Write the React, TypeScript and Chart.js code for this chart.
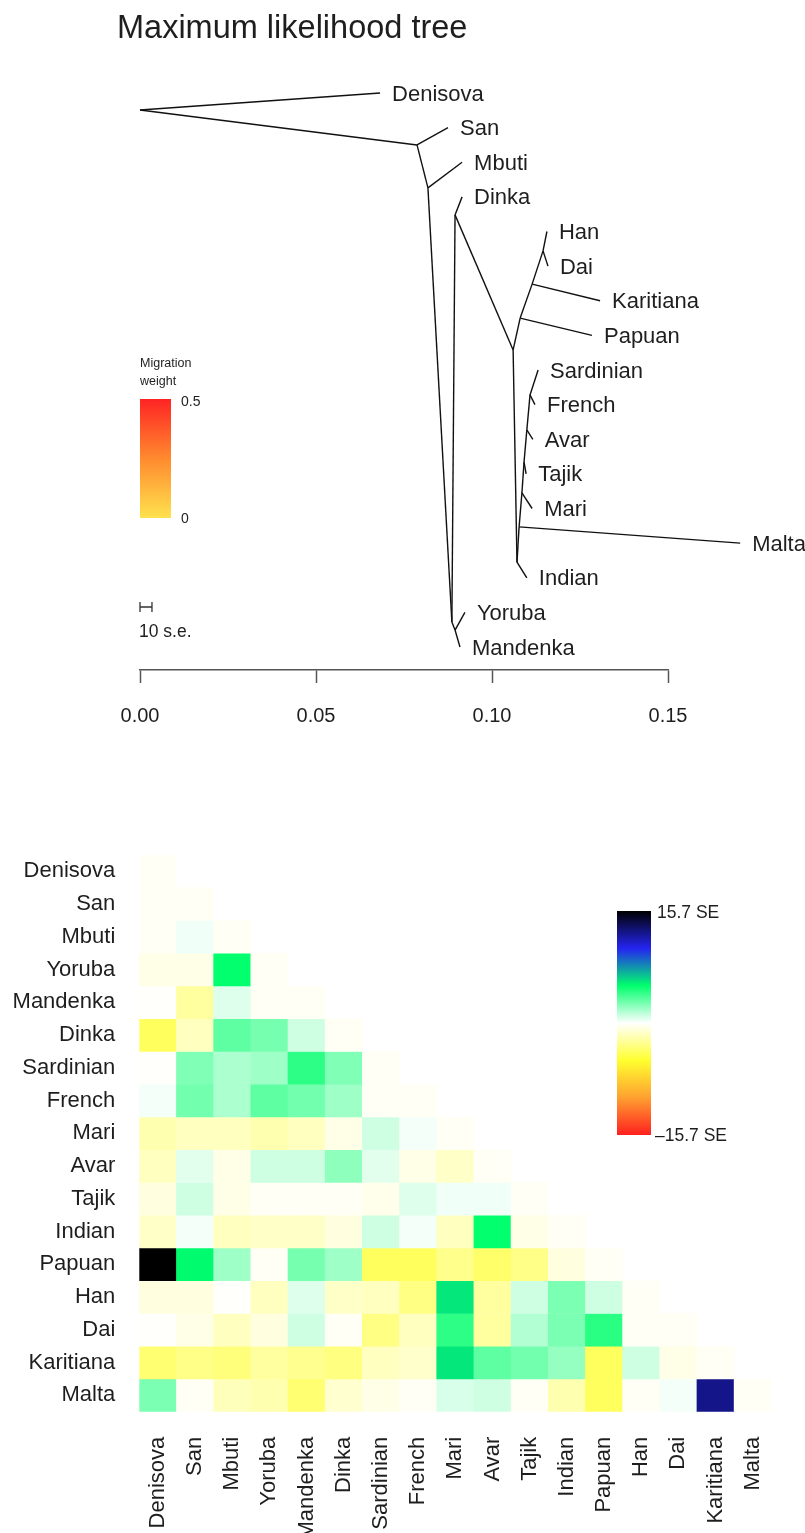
import { useEffect, useRef } from "react";
import Chart from "chart.js/auto";

// ---------- data ----------
const treeTitle = "Maximum likelihood tree";

const nodeNames = [
  "root", "Denisova", "nA", "San", "nB", "Mbuti", "nE", "nF", "Yoruba", "Mandenka",
  "nG", "Dinka", "nH", "nP", "Papuan", "nK", "Karitiana", "nHD", "Han", "Dai",
  "nJ", "Indian", "nM", "Malta", "nM1", "Mari", "nM2", "Tajik", "nM3", "Avar",
  "nM4", "Sardinian", "French",
];
// drift parameter (x)
const nodeDrift = [
  0, 0.0682, 0.0787, 0.0875, 0.0818, 0.0915, 0.0886, 0.0895, 0.0923, 0.0909,
  0.0895, 0.0915, 0.106, 0.108, 0.1284, 0.1114, 0.1307, 0.1145, 0.1156, 0.1159,
  0.1071, 0.1099, 0.1077, 0.1705, 0.1085, 0.1114, 0.1091, 0.1097, 0.1099, 0.1116,
  0.1108, 0.1131, 0.1122,
];
// vertical position (leaf rank, 0 = top)
const nodeRank = [
  0.49, 0, 1.5, 1, 2.74, 2, 15.28, 15.51, 15, 16,
  3.52, 3, 7.42, 6.5, 7, 5.52, 6, 4.56, 4, 5,
  13.55, 14, 12.53, 13, 11.55, 12, 10.66, 11, 9.73, 10,
  8.72, 8, 9,
];
const treeEdges: [string, string][] = [
  ["root", "Denisova"], ["root", "nA"], ["nA", "San"], ["nA", "nB"], ["nB", "Mbuti"],
  ["nB", "nE"], ["nE", "nF"], ["nF", "Yoruba"], ["nF", "Mandenka"], ["nE", "nG"],
  ["nG", "Dinka"], ["nG", "nH"], ["nH", "nP"], ["nP", "Papuan"], ["nP", "nK"],
  ["nK", "Karitiana"], ["nK", "nHD"], ["nHD", "Han"], ["nHD", "Dai"], ["nH", "nJ"],
  ["nJ", "Indian"], ["nJ", "nM"], ["nM", "Malta"], ["nM", "nM1"], ["nM1", "Mari"],
  ["nM1", "nM2"], ["nM2", "Tajik"], ["nM2", "nM3"], ["nM3", "Avar"], ["nM3", "nM4"],
  ["nM4", "Sardinian"], ["nM4", "French"],
];
const leafNames = [
  "Denisova", "San", "Mbuti", "Dinka", "Han", "Dai", "Karitiana", "Papuan",
  "Sardinian", "French", "Avar", "Tajik", "Mari", "Malta", "Indian", "Yoruba", "Mandenka",
];
const driftTicks = [0, 0.05, 0.1, 0.15];
const seBarDrift = 0.0034; // 10 s.e.
const seBarLabel = "10 s.e.";
const migrationTitle = ["Migration", "weight"];
const migrationTicks = ["0.5", "0"];

const populations = [
  "Denisova", "San", "Mbuti", "Yoruba", "Mandenka", "Dinka", "Sardinian", "French",
  "Mari", "Avar", "Tajik", "Indian", "Papuan", "Han", "Dai", "Karitiana", "Malta",
];
// residuals in standard errors, lower triangle (row r has r+1 values)
const residualRows: number[][] = [
  [-0.25],
  [-0.25, -0.25],
  [-0.25, 0.3, -0.25],
  [-0.6, -0.6, 5.2, -0.25],
  [-0.1, -2.4, 0.7, -0.25, -0.25],
  [-4.1, -1.6, 3.3, 2.8, 1.0, -0.25],
  [-0.1, 2.6, 1.7, 2.0, 4.3, 2.6, -0.25],
  [0.25, 2.9, 1.7, 3.3, 2.9, 2.0, -0.25, -0.25],
  [-2.0, -1.6, -1.6, -2.0, -1.6, -0.6, 1.0, 0.25, -0.25],
  [-1.6, 0.6, -0.6, 1.0, 1.0, 2.3, 0.6, -0.6, -1.4, -0.25],
  [-0.8, 1.0, -0.6, -0.25, -0.25, -0.25, -0.5, 0.7, 0.3, 0.3, -0.25],
  [-1.4, 0.25, -1.6, -1.4, -1.4, -0.8, 1.0, 0.25, -1.6, 5.2, -0.6, -0.25],
  [15.7, 5.3, 2.0, -0.25, 2.8, 2.0, -4.1, -4.1, -2.9, -3.8, -3.0, -0.8, -0.25],
  [-0.8, -0.8, -0.1, -1.6, 0.7, -1.4, -1.6, -3.1, 5.8, -2.4, 1.0, 2.7, 1.0, -0.25],
  [-0.1, -0.6, -1.6, -0.8, 1.0, -0.25, -3.1, -1.6, 4.3, -2.4, 1.6, 2.7, 4.4, -0.25, -0.25],
  [-3.6, -3.0, -3.3, -2.4, -2.8, -3.2, -1.6, -1.3, 5.8, 3.3, 2.9, 2.2, -4.1, 1.0, -0.6, -0.25],
  [2.7, -0.25, -1.7, -2.0, -3.6, -1.2, -0.6, -0.25, 0.8, 1.0, -0.25, -2.0, -4.1, -0.25, 0.25, 12.7, -0.25],
];
const seMax = 15.7;
const seTickLabels = ["15.7 SE", "–15.7 SE"];

// ---------- styles ----------
const FONT = "'Liberation Sans', Arial, Helvetica, sans-serif";
const TEXT = "#1e1e1e";
const LINE = "#111111";
const residualPalette = ["#FF2020", "#FFA030", "#FFFF30", "#FFFFFF", "#00FF6C", "#2424F0", "#000000"];
const migrationGradient = ["#FF2424", "#FF8A2E", "#FFE24E"];

function hexToRgb(h: string) {
  return [parseInt(h.slice(1, 3), 16), parseInt(h.slice(3, 5), 16), parseInt(h.slice(5, 7), 16)];
}
function residualColor(v: number) {
  const t = Math.max(0, Math.min(1, (v + seMax) / (2 * seMax))) * (residualPalette.length - 1);
  const i = Math.min(residualPalette.length - 2, Math.floor(t));
  const f = t - i;
  const a = hexToRgb(residualPalette[i]);
  const b = hexToRgb(residualPalette[i + 1]);
  const c = a.map((av, k) => Math.round(av + (b[k] - av) * f));
  return `rgb(${c[0]},${c[1]},${c[2]})`;
}
const idx = (n: string) => nodeNames.indexOf(n);

const treeDecor = {
  id: "treeDecor",
  afterDraw(chart: any) {
    const { ctx } = chart;
    const x = chart.scales.x;
    const y = chart.scales.y;
    ctx.save();
    ctx.fillStyle = TEXT;
    ctx.textAlign = "left";
    ctx.textBaseline = "alphabetic";
    ctx.font = `32.5px ${FONT}`;
    ctx.fillText(treeTitle, 117, 38);

    ctx.font = `22px ${FONT}`;
    ctx.textBaseline = "middle";
    leafNames.forEach((name) => {
      const i = idx(name);
      ctx.fillText(name, x.getPixelForValue(nodeDrift[i]) + 12, y.getPixelForValue(nodeRank[i]) + 1.5);
    });

    // migration weight legend
    ctx.font = `12.5px ${FONT}`;
    ctx.fillText(migrationTitle[0], 140, 364);
    ctx.fillText(migrationTitle[1], 140, 382);
    const g = ctx.createLinearGradient(0, 399, 0, 518);
    g.addColorStop(0, migrationGradient[0]);
    g.addColorStop(0.5, migrationGradient[1]);
    g.addColorStop(1, migrationGradient[2]);
    ctx.fillStyle = g;
    ctx.fillRect(140, 399, 31, 119);
    ctx.fillStyle = TEXT;
    ctx.font = `14px ${FONT}`;
    ctx.fillText(migrationTicks[0], 181, 402);
    ctx.fillText(migrationTicks[1], 181, 519);

    // s.e. scale bar
    const x0 = x.getPixelForValue(0);
    const x1 = x.getPixelForValue(seBarDrift);
    ctx.strokeStyle = "#333";
    ctx.lineWidth = 1.3;
    ctx.beginPath();
    ctx.moveTo(x0, 607); ctx.lineTo(x1, 607);
    ctx.moveTo(x0, 602); ctx.lineTo(x0, 612);
    ctx.moveTo(x1, 602); ctx.lineTo(x1, 612);
    ctx.stroke();
    ctx.font = `17.5px ${FONT}`;
    ctx.fillText(seBarLabel, 139, 632);
    ctx.restore();
  },
};

const residDecor = {
  id: "residDecor",
  afterDraw(chart: any) {
    const { ctx } = chart;
    ctx.save();
    const top = 141, bottom = 365, left = 617, w = 34;
    const g = ctx.createLinearGradient(0, top, 0, bottom);
    const n = residualPalette.length - 1;
    residualPalette.forEach((c, i) => g.addColorStop(1 - i / n, c));
    ctx.fillStyle = g;
    ctx.fillRect(left, top, w, bottom - top);
    ctx.fillStyle = TEXT;
    ctx.font = `17.5px ${FONT}`;
    ctx.textAlign = "left";
    ctx.textBaseline = "middle";
    ctx.fillText(seTickLabels[0], 657, 143);
    ctx.fillText(seTickLabels[1], 655, 366);
    ctx.restore();
  },
};

export default function App() {
  const treeRef = useRef<HTMLCanvasElement>(null);
  const residRef = useRef<HTMLCanvasElement>(null);

  useEffect(() => {
    const treeChart = new Chart(treeRef.current as HTMLCanvasElement, {
      type: "scatter",
      data: {
        datasets: treeEdges.map(([a, b]) => ({
          data: [
            { x: nodeDrift[idx(a)], y: nodeRank[idx(a)] },
            { x: nodeDrift[idx(b)], y: nodeRank[idx(b)] },
          ],
          showLine: true,
          borderColor: LINE,
          borderWidth: 1.4,
          pointRadius: 0,
          pointHoverRadius: 0,
          fill: false,
          clip: false,
        })),
      } as any,
      options: {
        animation: false,
        responsive: false,
        events: [],
        layout: { padding: { left: 140, right: 137, top: 60, bottom: 0 } },
        plugins: { legend: { display: false }, tooltip: { enabled: false } },
        scales: {
          x: {
            type: "linear",
            min: 0,
            max: 0.15,
            afterBuildTicks: (s: any) => {
              s.ticks = driftTicks.map((v) => ({ value: v }));
            },
            afterFit: (s: any) => {
              s.height = 100;
            },
            ticks: {
              callback: (v: any) => Number(v).toFixed(2),
              font: { family: FONT, size: 20 },
              color: TEXT,
              padding: 21,
              maxRotation: 0,
              autoSkip: false,
            },
            grid: {
              display: true,
              drawOnChartArea: false,
              drawTicks: true,
              tickLength: 13,
              tickColor: "#555",
              tickWidth: 1.5,
            },
            border: { display: true, color: "#555", width: 1.5 },
          },
          y: { type: "linear", display: false, reverse: true, min: -0.953, max: 16.664 },
        },
      } as any,
      plugins: [treeDecor],
    });

    const residChart = new Chart(residRef.current as HTMLCanvasElement, {
      type: "bar",
      data: {
        labels: populations,
        datasets: residualRows.map((row, r) => ({
          data: populations.map((_, c) => (c <= r ? [r - 0.5, r + 0.5] : null)),
          backgroundColor: populations.map((_, c) => (c <= r ? residualColor(row[c]) : "rgba(0,0,0,0)")),
          borderWidth: 0,
          grouped: false,
          barPercentage: 1,
          categoryPercentage: 1,
        })),
      } as any,
      options: {
        animation: false,
        responsive: false,
        events: [],
        layout: { padding: { left: 0, right: 29.4, top: 85, bottom: 0 } },
        plugins: { legend: { display: false }, tooltip: { enabled: false } },
        scales: {
          x: {
            type: "category",
            grid: { display: false, drawTicks: false },
            border: { display: false },
            ticks: {
              minRotation: 90,
              maxRotation: 90,
              autoSkip: false,
              padding: 25,
              font: { family: FONT, size: 22 },
              color: TEXT,
            },
            afterFit: (s: any) => {
              s.height = 121.25;
            },
          },
          y: {
            type: "linear",
            min: -0.5,
            max: 16.5,
            reverse: true,
            afterBuildTicks: (s: any) => {
              s.ticks = populations.map((_, i) => ({ value: i }));
            },
            afterFit: (s: any) => {
              s.width = 139.3;
            },
            ticks: {
              callback: (v: any) => populations[v] ?? "",
              padding: 24,
              autoSkip: false,
              font: { family: FONT, size: 22 },
              color: TEXT,
            },
            grid: { display: false, drawTicks: false },
            border: { display: false },
          },
        },
      } as any,
      plugins: [residDecor],
    });

    return () => {
      treeChart.destroy();
      residChart.destroy();
    };
  }, []);

  return (
    <div style={{ position: "fixed", left: 0, top: 0, width: 805, height: 1533, background: "#fff", overflow: "hidden" }}>
      <canvas ref={treeRef} width={805} height={770} style={{ position: "absolute", left: 0, top: 0, width: 805, height: 770 }} />
      <canvas ref={residRef} width={805} height={763} style={{ position: "absolute", left: 0, top: 770, width: 805, height: 763 }} />
    </div>
  );
}
